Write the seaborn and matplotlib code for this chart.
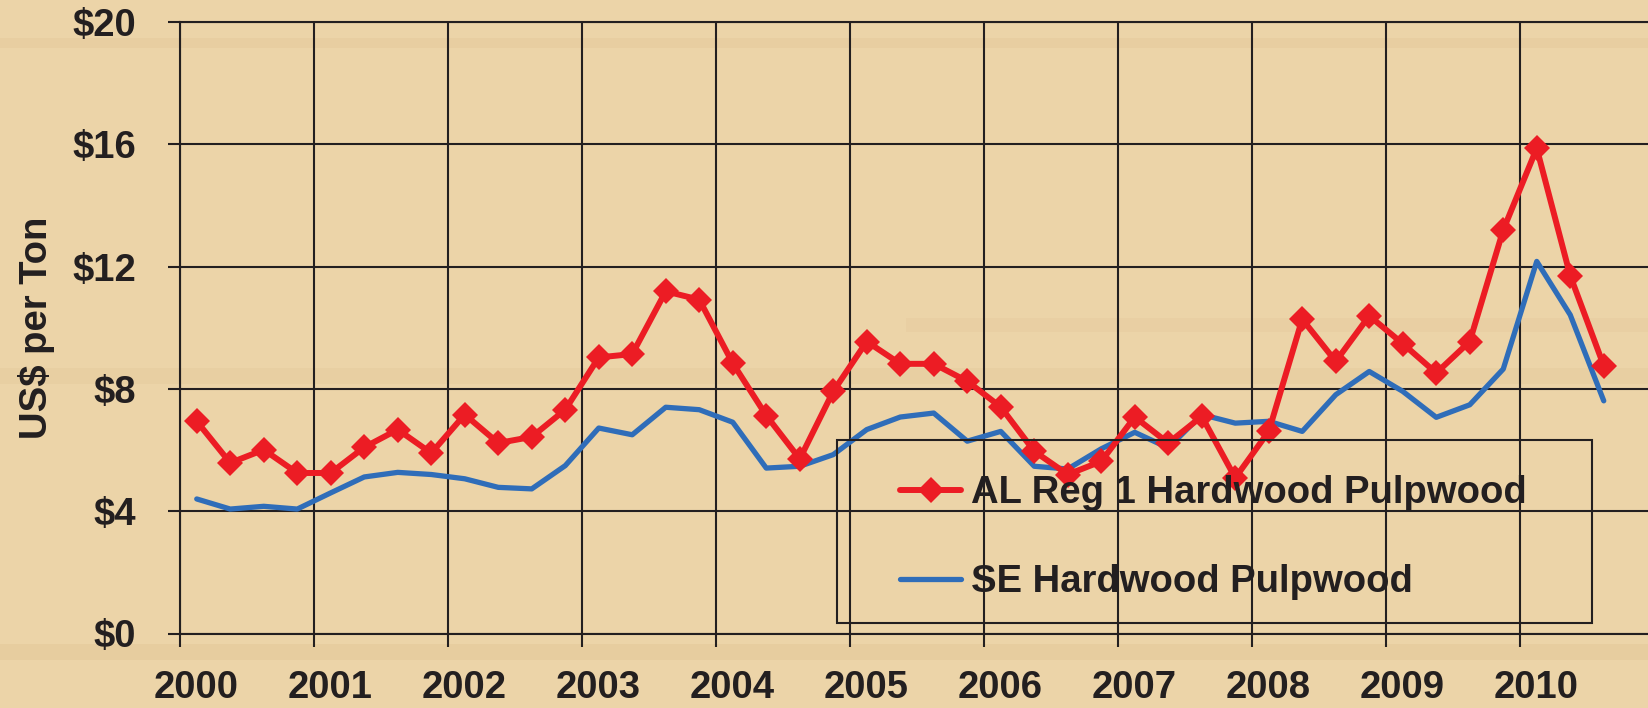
import matplotlib
matplotlib.use("Agg")
import matplotlib.pyplot as plt
import numpy as np
import pandas as pd
import seaborn as sns
from matplotlib.patches import Rectangle
from matplotlib.transforms import ScaledTranslation

# ---------------------------------------------------------------------------
# Data: quarterly prices, 2000Q1 .. 2010Q3 (US$ per ton)
# ---------------------------------------------------------------------------
start_year = 2000
year_ticks = list(range(2000, 2011))
y_ticks = [0, 4, 8, 12, 16, 20]
y_tick_labels = ["$0", "$4", "$8", "$12", "$16", "$20"]

al_reg1 = [
    6.94, 5.58, 6.01, 5.25,
    5.25, 6.09, 6.67, 5.90,
    7.16, 6.23, 6.43, 7.32,
    9.03, 9.14, 11.19, 10.92,
    8.84, 7.13, 5.71, 7.92,
    9.55, 8.82, 8.82, 8.25,
    7.41, 5.96, 5.20, 5.63,
    7.08, 6.23, 7.10, 5.09,
    6.61, 10.28, 8.90, 10.39,
    9.48, 8.52, 9.55, 13.20,
    15.87, 11.70, 8.76,
]
se_avg = [
    4.40, 4.07, 4.16, 4.07,
    4.60, 5.12, 5.27, 5.20,
    5.06, 4.78, 4.73, 5.49,
    6.72, 6.50, 7.40, 7.32,
    6.91, 5.41, 5.47, 5.85,
    6.67, 7.08, 7.21, 6.29,
    6.61, 5.47, 5.38, 6.04,
    6.58, 6.07, 7.16, 6.88,
    6.94, 6.61, 7.81, 8.57,
    7.92, 7.07, 7.48, 8.65,
    12.17, 10.42, 7.61,
]
labels = ["AL Reg 1 Hardwood Pulpwood", "SE Hardwood Pulpwood"]

periods = pd.period_range("2000Q1", periods=len(al_reg1), freq="Q")
df = pd.DataFrame({
    "t": periods.year + (periods.quarter - 0.5) / 4,
    "al": al_reg1,
    "se": se_avg,
})

BG = "#ECD4A8"
RED = "#EC1C24"
BLUE = "#2F6DB9"
INK = "#231F20"
FS = 27.5

sns.set_theme(style="white")
plt.rcParams["font.family"] = ["Liberation Sans", "DejaVu Sans"]
plt.rcParams["font.weight"] = "bold"

W, H = 1648, 708
fig = plt.figure(figsize=(W / 100, H / 100), dpi=100, facecolor=BG)

# faint wood-grain streaks in the background
for top, h, x0, alpha in [(38, 10, 0.0, 0.2), (368, 16, 0.0, 0.18),
                          (318, 14, 0.55, 0.15), (644, 16, 0.0, 0.25)]:
    fig.add_artist(Rectangle((x0, 1 - (top + h) / H), 1 - x0, h / H,
                             transform=fig.transFigure, color="#D9B987",
                             alpha=alpha, lw=0, zorder=-5))

ax = fig.add_axes([180 / W, 74.5 / H, 1474 / W, 611.5 / H])
ax.set_facecolor("none")

sns.lineplot(data=df, x="t", y="se", ax=ax, color=BLUE, linewidth=3.8,
             zorder=3)
sns.lineplot(data=df, x="t", y="al", ax=ax, color=RED, linewidth=4.3,
             marker="D", markersize=13.5, markeredgecolor=RED,
             markeredgewidth=0, zorder=4)
blue_line, red_line = ax.get_lines()[:2]

ax.set_xlim(2000, 2011)
ax.set_ylim(0, 20)
ax.set_xticks(year_ticks)
ax.set_xticklabels([str(y) for y in year_ticks])
ax.set_yticks(y_ticks)
ax.set_yticklabels(y_tick_labels)
ax.set_xlabel("")
ax.set_ylabel("US$ per Ton", fontsize=FS, fontweight="bold", color=INK)
ax.yaxis.set_label_coords(-0.0848, 0.5)

ax.grid(True, color=INK, linewidth=1.5)
ax.set_axisbelow(True)
for side in ["left", "bottom", "top"]:
    ax.spines[side].set_visible(True)
    ax.spines[side].set_color(INK)
    ax.spines[side].set_linewidth(1.5)
ax.spines["right"].set_visible(False)

ax.tick_params(axis="x", direction="out", length=9.4, width=1.5, color=INK,
               pad=17, labelsize=FS, labelcolor=INK, bottom=True)
ax.tick_params(axis="y", direction="out", length=8.6, width=1.5, color=INK,
               pad=23, labelsize=FS, labelcolor=INK, left=True)
shift = ScaledTranslation(0.16, 0, fig.dpi_scale_trans)
for lbl in ax.get_xticklabels():
    lbl.set_transform(lbl.get_transform() + shift)

# legend: frameless entries plus an Excel-like box drawn separately
leg = ax.legend([red_line, blue_line], labels, loc="upper left",
                bbox_to_anchor=(900 / W, 1 - 475 / H),
                bbox_transform=fig.transFigure, frameon=False,
                prop={"size": FS, "weight": "bold"}, borderpad=0,
                borderaxespad=0, handlelength=1.6, handletextpad=0.25,
                labelspacing=1.4)
for txt in leg.get_texts():
    txt.set_color(INK)
ax.add_patch(Rectangle((837 / W, 1 - 623 / H), 755 / W, 183 / H,
                       transform=fig.transFigure, fill=False, edgecolor=INK,
                       linewidth=1.5, clip_on=False, zorder=6))

fig.savefig("out.png", dpi=100, facecolor=BG)
